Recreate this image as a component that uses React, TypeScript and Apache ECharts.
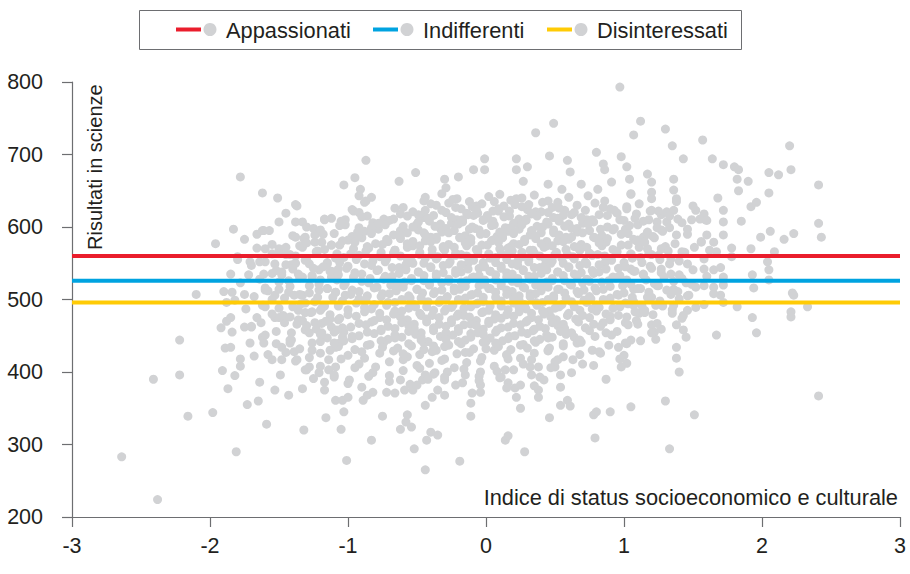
import React, { useEffect, useRef } from "react";
import * as echarts from "echarts";

// Legend / mean lines
const groupLabels = ["Appassionati", "Indifferenti", "Disinteressati"];
const groupMeans = [560, 526, 496];
const groupColors = ["#ea1d2c", "#00a3e0", "#ffcb05"];

// Axis ticks
const xTickValues = [-3, -2, -1, 0, 1, 2, 3];
const yTickValues = [200, 300, 400, 500, 600, 700, 800];

const xAxisTitle = "Indice di status socioeconomico e culturale";
const yAxisTitle = "Risultati in scienze";

// Scatter points: [socio-economic index, science score]
const scoresLowLeft: [number, number][] = [
  [-2.22, 444], [-2.22, 396], [-2.41, 390], [-2.16, 339], [-1.98, 344], [-2.64, 283], [-2.38, 224],
  [-1.81, 290], [-1.59, 328], [-1.32, 320], [-1.05, 321], [-1.16, 337], [-1.01, 278], [-1.73, 355],
  [-1.87, 377], [-1.91, 402], [-1.82, 395], [-1.65, 360], [-1.64, 386], [-1.53, 375], [-1.49, 396],
  [-1.43, 368], [-1.33, 377], [-1.68, 422], [-1.78, 418], [-1.78, 408], [-1.89, 433], [-1.85, 434],
  [-1.92, 461], [-1.88, 470], [-1.84, 455], [-1.75, 462], [-1.71, 440], [-1.62, 448], [-1.61, 440],
  [-1.58, 424], [-1.48, 417], [-1.39, 428], [-1.37, 417], [-1.31, 403], [-1.28, 407], [-1.21, 399],
  [-1.17, 386], [-1.10, 393], [-1.09, 407], [-1.14, 417], [-1.20, 426], [-1.26, 440], [-1.19, 454],
  [-1.12, 462], [-1.06, 440], [-1.03, 455], [-1.46, 468], [-1.36, 472], [-1.31, 482], [-1.53, 475],
  [-1.66, 475], [-1.60, 490], [-1.42, 440], [-1.41, 454], [-1.55, 417], [-1.88, 496], [-1.61, 492],
  [-1.36, 485], [-1.19, 488], [-1.07, 472], [-1.04, 448], [-1.09, 434], [-1.70, 462], [-1.50, 475],
  [-1.31, 458], [-1.24, 468], [-1.48, 434], [-1.41, 444], [-1.26, 430], [-1.14, 403], [-1.09, 361],
  [-1.17, 375], [-1.04, 361], [-1.03, 345],
];

const scoresHighLeft: [number, number][] = [
  [-1.78, 669], [-1.62, 647], [-1.51, 640], [-1.37, 629], [-1.83, 597], [-1.96, 577], [-1.66, 590],
  [-1.61, 595], [-1.57, 595], [-1.38, 607], [-1.33, 607], [-1.17, 611], [-1.03, 658], [-1.02, 610],
  [-1.31, 586], [-1.24, 589], [-1.33, 572], [-1.19, 579], [-1.12, 575], [-1.60, 570], [-1.55, 563],
  [-1.50, 570], [-1.42, 562], [-1.80, 555], [-1.71, 552], [-1.64, 552], [-1.53, 549], [-1.41, 548],
  [-1.28, 549], [-1.21, 541], [-1.15, 549], [-1.07, 542], [-1.72, 534], [-1.61, 535], [-1.48, 534],
  [-1.36, 535], [-1.26, 531], [-1.12, 531], [-2.10, 507], [-1.84, 510], [-1.75, 507], [-1.60, 513],
  [-1.53, 506], [-1.43, 510], [-1.33, 506], [-1.21, 513], [-1.09, 510], [-1.02, 506],
];

const scoresTopMiddle: [number, number][] = [
  [0.97, 793], [0.49, 743], [0.36, 730], [-0.87, 692], [-0.95, 668], [-0.63, 663], [-0.51, 675],
  [-0.01, 694], [-0.09, 679], [-0.01, 679], [0.22, 694], [0.30, 683], [0.22, 679], [0.46, 698],
  [0.59, 692], [0.80, 703], [0.85, 687], [0.86, 679], [-0.30, 666], [-0.20, 669], [-0.29, 654],
  [-0.91, 652], [-0.44, 641], [-0.83, 641], [-0.87, 636], [0.27, 663], [0.61, 676], [0.45, 659],
  [0.69, 659], [0.55, 652], [0.81, 652], [0.91, 662], [0.93, 623], [0.98, 697],
];

const scoresRight: [number, number][] = [
  [1.12, 746], [1.07, 727], [1.30, 735], [1.35, 712], [1.57, 720], [1.43, 694], [1.64, 694],
  [1.72, 686], [1.80, 683], [1.83, 679], [1.82, 666], [1.90, 663], [2.05, 675], [2.12, 672],
  [2.20, 712], [2.21, 679], [2.41, 658], [2.05, 647], [1.83, 650], [1.68, 640], [1.92, 628],
  [1.96, 634], [1.72, 623], [1.85, 608], [1.72, 607], [1.72, 589], [1.99, 586], [2.06, 594],
  [2.16, 583], [2.23, 591], [2.41, 605], [2.43, 586], [1.92, 570], [1.78, 571], [2.09, 566],
  [2.04, 552], [2.05, 541], [2.05, 527], [1.93, 534], [1.94, 516], [2.22, 509], [2.23, 506],
  [1.36, 666], [1.17, 673], [1.20, 662], [1.04, 666], [1.02, 683], [1.05, 645], [1.20, 648],
  [1.36, 651], [1.38, 639], [1.02, 625], [1.09, 618], [1.20, 623], [1.27, 617], [1.31, 621],
  [1.36, 623], [1.24, 607], [1.31, 607], [1.39, 611], [1.52, 623], [1.58, 618], [1.49, 610],
  [1.59, 610], [1.18, 610], [1.27, 596], [1.38, 589], [1.46, 590], [1.60, 589], [1.14, 586],
  [1.07, 583], [1.01, 597], [1.11, 572], [1.27, 570], [1.51, 572], [1.56, 579], [1.65, 579],
  [1.67, 566], [1.42, 566], [1.34, 556], [1.20, 562], [1.05, 562], [1.78, 559], [1.46, 549],
  [1.58, 542], [1.65, 541], [1.27, 542], [1.14, 535], [1.05, 542], [1.40, 534], [1.72, 531],
  [1.49, 521], [1.58, 519], [1.24, 519], [1.07, 514], [1.36, 514], [1.65, 517], [1.70, 506],
  [1.17, 503], [1.47, 506], [1.07, 492], [1.23, 492], [1.36, 492], [1.11, 481], [1.35, 481],
  [1.46, 485], [1.43, 478], [1.72, 496], [1.82, 490], [1.93, 475], [1.96, 454], [2.21, 483],
  [2.21, 476], [2.33, 490], [1.01, 468], [1.20, 465], [1.22, 455], [1.23, 445], [1.12, 443],
  [1.38, 465], [1.43, 458], [1.45, 448], [1.67, 451], [1.38, 434], [1.01, 440], [1.00, 423],
  [1.02, 412], [1.38, 419], [1.40, 400], [1.05, 352], [1.30, 360], [1.51, 341], [1.33, 294],
  [2.41, 367],
];

const scoresLowMiddle: [number, number][] = [
  [-0.44, 265], [-0.19, 277], [0.28, 290], [-0.52, 294], [-0.83, 306], [0.14, 306], [0.16, 312],
  [-0.43, 306], [-0.40, 317], [-0.35, 313], [-0.62, 321], [-0.54, 324], [-0.58, 331], [-0.57, 341],
  [-0.75, 339], [-0.11, 339], [-0.11, 357], [-0.44, 354], [-0.39, 365], [-0.30, 368], [-0.89, 361],
  [-0.86, 368], [-0.82, 372], [-0.66, 371], [-0.59, 375], [-0.53, 375], [0.25, 350], [0.46, 337],
  [0.54, 354], [0.59, 361], [0.61, 353], [0.79, 309], [0.78, 341], [0.80, 345], [0.90, 345],
  [0.87, 390], [0.70, 411], [0.54, 379], [0.38, 365], [0.22, 365], [0.21, 378], [0.16, 385],
  [-0.04, 372], [-0.04, 382], [-0.22, 382], [-0.30, 389], [-0.37, 399], [-0.46, 389], [-0.44, 396],
  [-0.62, 389], [-0.99, 389], [-1.00, 365], [0.39, 393], [0.54, 396], [0.38, 375], [0.50, 407],
  [0.52, 417], [0.32, 407], [0.33, 417], [0.11, 393], [0.14, 403], [-0.04, 400], [-0.15, 396],
  [0.98, 407], [0.96, 434], [0.83, 426], [0.69, 441],
];

const scoresCore: [number, number][] = [
  [-0.92, 643], [-0.45, 636], [-0.32, 646], [-0.21, 639], [-0.12, 635], [0.02, 642], [0.1, 645],
  [0.18, 637], [0.26, 640], [0.35, 644], [0.52, 634], [0.6, 641], [0.74, 643], [0.86, 636],
  [1.05, 646], [1.2, 639], [1.38, 635],
  [-1.38, 631], [-0.97, 624], [-0.88, 634], [-0.6, 627], [-0.44, 623], [-0.36, 630], [-0.27, 633],
  [-0.18, 625], [-0.1, 628], [-0.03, 632], [0.05, 622], [0.13, 629], [0.21, 631], [0.3, 624],
  [0.41, 634], [0.48, 627], [0.57, 623], [0.66, 630], [0.79, 633], [0.9, 625], [1.02, 628],
  [1.11, 632], [1.25, 622], [1.5, 629],
  [-1.45, 619], [-1.12, 612], [-0.96, 622], [-0.86, 615], [-0.74, 611], [-0.62, 618], [-0.53, 621],
  [-0.45, 613], [-0.38, 616], [-0.29, 620], [-0.21, 610], [-0.13, 617], [-0.06, 619], [0.01, 612],
  [0.09, 622], [0.17, 615], [0.24, 611], [0.33, 618], [0.4, 621], [0.49, 613], [0.56, 616],
  [0.64, 620], [0.73, 610], [0.82, 617], [0.95, 619], [1.08, 612], [1.19, 622], [1.33, 615],
  [1.55, 611],
  [-1.5, 607], [-1.3, 600], [-1.17, 610], [-1.02, 603], [-0.92, 599], [-0.82, 606], [-0.7, 609],
  [-0.6, 601], [-0.5, 604], [-0.41, 608], [-0.33, 598], [-0.25, 605], [-0.17, 607], [-0.1, 600],
  [-0.02, 610], [0.06, 603], [0.14, 599], [0.22, 606], [0.29, 609], [0.37, 601], [0.45, 604],
  [0.53, 608], [0.62, 598], [0.7, 605], [0.78, 607], [0.88, 600], [0.97, 610], [1.1, 603],
  [1.24, 599], [1.42, 606], [1.6, 609],
  [-1.62, 595], [-1.4, 588], [-1.25, 598], [-1.1, 591], [-0.97, 587], [-0.88, 594], [-0.78, 597],
  [-0.67, 589], [-0.57, 592], [-0.49, 596], [-0.4, 586], [-0.32, 593], [-0.23, 595], [-0.15, 588],
  [-0.08, 598], [0.0, 591], [0.08, 587], [0.16, 594], [0.24, 597], [0.32, 589], [0.4, 592],
  [0.49, 596], [0.58, 586], [0.66, 593], [0.75, 595], [0.84, 588], [0.93, 598], [1.03, 591],
  [1.15, 587], [1.28, 594], [1.46, 597],
  [-1.75, 583], [-1.55, 576], [-1.38, 586], [-1.24, 579], [-1.12, 575], [-1.0, 582], [-0.9, 585],
  [-0.8, 577], [-0.71, 580], [-0.62, 584], [-0.53, 574], [-0.44, 581], [-0.36, 583], [-0.27, 576],
  [-0.19, 586], [-0.11, 579], [-0.03, 575], [0.05, 582], [0.12, 585], [0.2, 577], [0.28, 580],
  [0.36, 584], [0.44, 574], [0.52, 581], [0.6, 583], [0.69, 576], [0.78, 586], [0.87, 579],
  [0.98, 575], [1.1, 582], [1.22, 585], [1.37, 577], [1.56, 580],
  [-1.66, 571], [-1.5, 564], [-1.35, 574], [-1.22, 567], [-1.08, 563], [-0.96, 570], [-0.86, 573],
  [-0.76, 565], [-0.66, 568], [-0.57, 572], [-0.48, 562], [-0.39, 569], [-0.31, 571], [-0.22, 564],
  [-0.14, 574], [-0.06, 567], [0.02, 563], [0.1, 570], [0.18, 573], [0.26, 565], [0.34, 568],
  [0.42, 572], [0.5, 562], [0.58, 569], [0.67, 571], [0.75, 564], [0.84, 574], [0.94, 567],
  [1.05, 563], [1.17, 570], [1.3, 573], [1.44, 565], [1.62, 568],
  [-1.8, 559], [-1.6, 552], [-1.45, 562], [-1.3, 555], [-1.15, 551], [-1.03, 558], [-0.92, 561],
  [-0.82, 553], [-0.72, 556], [-0.62, 560], [-0.53, 550], [-0.44, 557], [-0.35, 559], [-0.26, 552],
  [-0.18, 562], [-0.1, 555], [-0.02, 551], [0.07, 558], [0.15, 561], [0.23, 553], [0.31, 556],
  [0.39, 560], [0.47, 550], [0.55, 557], [0.63, 559], [0.72, 552], [0.81, 562], [0.9, 555],
  [1.0, 551], [1.12, 558], [1.25, 561], [1.4, 553], [1.58, 556],
  [-1.7, 547], [-1.52, 540], [-1.38, 550], [-1.25, 543], [-1.12, 539], [-1.0, 546], [-0.88, 549],
  [-0.78, 541], [-0.68, 544], [-0.58, 548], [-0.49, 538], [-0.4, 545], [-0.31, 547], [-0.22, 540],
  [-0.13, 550], [-0.05, 543], [0.03, 539], [0.11, 546], [0.19, 549], [0.27, 541], [0.35, 544],
  [0.43, 548], [0.52, 538], [0.6, 545], [0.68, 547], [0.77, 540], [0.86, 550], [0.96, 543],
  [1.07, 539], [1.19, 546], [1.33, 549], [1.5, 541], [1.7, 544],
  [-1.85, 535], [-1.64, 528], [-1.48, 538], [-1.33, 531], [-1.2, 527], [-1.07, 534], [-0.95, 537],
  [-0.84, 529], [-0.73, 532], [-0.63, 536], [-0.54, 526], [-0.45, 533], [-0.36, 535], [-0.27, 528],
  [-0.18, 538], [-0.09, 531], [-0.01, 527], [0.07, 534], [0.15, 537], [0.23, 529], [0.31, 532],
  [0.4, 536], [0.48, 526], [0.56, 533], [0.64, 535], [0.73, 528], [0.82, 538], [0.92, 531],
  [1.02, 527], [1.14, 534], [1.27, 537], [1.42, 529], [1.6, 532],
  [-1.78, 523], [-1.6, 516], [-1.43, 526], [-1.28, 519], [-1.15, 515], [-1.02, 522], [-0.9, 525],
  [-0.79, 517], [-0.69, 520], [-0.59, 524], [-0.5, 514], [-0.41, 521], [-0.32, 523], [-0.23, 516],
  [-0.14, 526], [-0.05, 519], [0.03, 515], [0.11, 522], [0.19, 525], [0.27, 517], [0.36, 520],
  [0.44, 524], [0.52, 514], [0.61, 521], [0.7, 523], [0.79, 516], [0.89, 526], [0.99, 519],
  [1.1, 515], [1.22, 522], [1.36, 525], [1.52, 517], [1.72, 520],
  [-1.9, 511], [-1.68, 504], [-1.5, 514], [-1.35, 507], [-1.22, 503], [-1.09, 510], [-0.97, 513],
  [-0.86, 505], [-0.75, 508], [-0.65, 512], [-0.55, 502], [-0.46, 509], [-0.37, 511], [-0.28, 504],
  [-0.19, 514], [-0.1, 507], [-0.02, 503], [0.07, 510], [0.15, 513], [0.24, 505], [0.32, 508],
  [0.4, 512], [0.49, 502], [0.57, 509], [0.66, 511], [0.75, 504], [0.85, 514], [0.95, 507],
  [1.06, 503], [1.18, 510], [1.31, 513], [1.46, 505], [1.65, 508],
  [-1.82, 499], [-1.62, 492], [-1.46, 502], [-1.31, 495], [-1.17, 491], [-1.04, 498], [-0.92, 501],
  [-0.81, 493], [-0.71, 496], [-0.61, 500], [-0.51, 490], [-0.42, 497], [-0.33, 499], [-0.24, 492],
  [-0.15, 502], [-0.06, 495], [0.03, 491], [0.11, 498], [0.2, 501], [0.28, 493], [0.36, 496],
  [0.45, 500], [0.53, 490], [0.62, 497], [0.71, 499], [0.8, 492], [0.9, 502], [1.01, 495],
  [1.13, 491], [1.26, 498], [1.4, 501], [1.58, 493],
  [-1.74, 487], [-1.55, 480], [-1.4, 490], [-1.26, 483], [-1.13, 479], [-1.0, 486], [-0.88, 489],
  [-0.77, 481], [-0.66, 484], [-0.56, 488], [-0.47, 478], [-0.38, 485], [-0.29, 487], [-0.2, 480],
  [-0.11, 490], [-0.02, 483], [0.07, 479], [0.16, 486], [0.24, 489], [0.33, 481], [0.41, 484],
  [0.5, 488], [0.59, 478], [0.68, 485], [0.77, 487], [0.87, 480], [0.97, 490], [1.08, 483],
  [1.21, 479], [1.35, 486], [1.52, 489],
  [-1.85, 475], [-1.63, 468], [-1.47, 478], [-1.33, 471], [-1.19, 467], [-1.06, 474], [-0.94, 477],
  [-0.83, 469], [-0.72, 472], [-0.62, 476], [-0.52, 466], [-0.43, 473], [-0.34, 475], [-0.25, 468],
  [-0.16, 478], [-0.07, 471], [0.02, 467], [0.11, 474], [0.2, 477], [0.29, 469], [0.38, 472],
  [0.47, 476], [0.56, 466], [0.65, 473], [0.75, 475], [0.85, 468], [0.96, 478], [1.09, 471],
  [1.24, 467], [1.42, 474],
  [-1.7, 463], [-1.52, 456], [-1.37, 466], [-1.23, 459], [-1.1, 455], [-0.98, 462], [-0.87, 465],
  [-0.76, 457], [-0.66, 460], [-0.56, 464], [-0.47, 454], [-0.38, 461], [-0.29, 463], [-0.2, 456],
  [-0.11, 466], [-0.02, 459], [0.07, 455], [0.16, 462], [0.25, 465], [0.34, 457], [0.43, 460],
  [0.52, 464], [0.62, 454], [0.72, 461], [0.83, 463], [0.95, 456], [1.1, 466], [1.27, 459],
  [-1.6, 451], [-1.42, 444], [-1.28, 454], [-1.15, 447], [-1.03, 443], [-0.92, 450], [-0.81, 453],
  [-0.71, 445], [-0.61, 448], [-0.51, 452], [-0.42, 442], [-0.33, 449], [-0.24, 451], [-0.15, 444],
  [-0.06, 454], [0.03, 447], [0.12, 443], [0.21, 450], [0.3, 453], [0.39, 445], [0.48, 448],
  [0.58, 452], [0.68, 442], [0.79, 449], [0.91, 451], [1.05, 444], [1.2, 454],
  [-1.52, 439], [-1.35, 432], [-1.2, 442], [-1.07, 435], [-0.95, 431], [-0.84, 438], [-0.74, 441],
  [-0.64, 433], [-0.54, 436], [-0.45, 440], [-0.36, 430], [-0.27, 437], [-0.18, 439], [-0.09, 432],
  [0.0, 442], [0.09, 435], [0.18, 431], [0.27, 438], [0.36, 441], [0.46, 433], [0.56, 436],
  [0.66, 440], [0.77, 430], [0.89, 437], [1.02, 439],
  [-1.45, 427], [-1.28, 420], [-1.13, 430], [-1.0, 423], [-0.88, 419], [-0.77, 426], [-0.67, 429],
  [-0.57, 421], [-0.48, 424], [-0.39, 428], [-0.3, 418], [-0.21, 425], [-0.12, 427], [-0.03, 420],
  [0.06, 430], [0.15, 423], [0.25, 419], [0.35, 426], [0.45, 429], [0.56, 421], [0.68, 424],
  [0.82, 428], [0.97, 418],
  [-1.38, 415], [-1.2, 408], [-1.05, 418], [-0.92, 411], [-0.8, 407], [-0.7, 414], [-0.6, 417],
  [-0.5, 409], [-0.41, 412], [-0.32, 416], [-0.23, 406], [-0.14, 413], [-0.04, 415], [0.06, 408],
  [0.16, 418], [0.27, 411], [0.38, 407], [0.5, 414], [0.63, 417], [0.78, 409],
  [-1.3, 403], [-1.1, 396], [-0.95, 406], [-0.82, 399], [-0.7, 395], [-0.6, 402], [-0.48, 405],
  [-0.38, 397], [-0.28, 400], [-0.16, 404], [-0.05, 394], [0.08, 401], [0.2, 403], [0.33, 396],
  [0.47, 406], [0.62, 399],
  [-1.25, 391], [-1.0, 384], [-0.85, 394], [-0.7, 387], [-0.55, 383], [-0.42, 390], [-0.3, 393],
  [-0.17, 385], [-0.05, 388], [0.1, 392], [0.25, 382], [0.42, 389],
  [-0.9, 379], [-0.72, 372], [-0.5, 382], [-0.35, 375], [-0.1, 371], [0.15, 378], [0.35, 381],
];

// Extra points filling the densest central part of the cloud
const scoresCoreDense: [number, number][] = [
  [-0.4, 632], [-0.24, 638], [-0.07, 629], [0.06, 635], [0.22, 639], [0.31, 631], [0.45, 636],
  [-0.92, 620], [-0.66, 626], [-0.49, 617], [-0.32, 623], [-0.22, 627], [-0.14, 619], [-0.07, 624],
  [0.01, 616], [0.09, 625], [0.17, 622], [0.26, 628], [0.36, 621], [0.45, 620], [0.53, 626],
  [0.62, 617], [0.72, 623], [0.85, 627],
  [-1.05, 608], [-0.9, 614], [-0.78, 605], [-0.67, 611], [-0.57, 615], [-0.49, 607], [-0.42, 612],
  [-0.33, 604], [-0.25, 613], [-0.17, 610], [-0.09, 616], [-0.02, 609], [0.05, 608], [0.13, 614],
  [0.2, 605], [0.29, 611], [0.37, 615], [0.44, 607], [0.52, 612], [0.6, 604], [0.69, 613],
  [0.77, 610], [0.88, 616], [1.0, 609], [1.14, 608],
  [-1.2, 596], [-1.06, 602], [-0.93, 593], [-0.83, 599], [-0.73, 603], [-0.62, 595], [-0.53, 600],
  [-0.45, 592], [-0.37, 601], [-0.29, 598], [-0.2, 604], [-0.12, 597], [-0.05, 596], [0.04, 602],
  [0.1, 593], [0.18, 599], [0.26, 603], [0.33, 595], [0.41, 600], [0.49, 592], [0.57, 601],
  [0.66, 598], [0.74, 604], [0.83, 597], [0.92, 596], [1.04, 602], [1.17, 593], [1.33, 599],
  [-1.32, 584], [-1.18, 590], [-1.04, 581], [-0.93, 587], [-0.83, 591], [-0.72, 583], [-0.62, 588],
  [-0.53, 580], [-0.44, 589], [-0.36, 586], [-0.27, 592], [-0.19, 585], [-0.11, 584], [-0.04, 590],
  [0.04, 581], [0.12, 587], [0.2, 591], [0.28, 583], [0.36, 588], [0.44, 580], [0.53, 589],
  [0.62, 586], [0.7, 592], [0.79, 585], [0.88, 584], [0.98, 590], [1.09, 581], [1.21, 587],
  [-1.45, 572], [-1.3, 578], [-1.17, 569], [-1.06, 575], [-0.95, 579], [-0.85, 571], [-0.75, 576],
  [-0.66, 568], [-0.57, 577], [-0.48, 574], [-0.4, 580], [-0.31, 573], [-0.23, 572], [-0.15, 578],
  [-0.07, 569], [0.01, 575], [0.09, 579], [0.16, 571], [0.24, 576], [0.32, 568], [0.4, 577],
  [0.48, 574], [0.56, 580], [0.64, 573], [0.73, 572], [0.82, 578], [0.92, 569], [1.03, 575],
  [1.15, 579], [1.29, 571],
  [-1.38, 560], [-1.23, 566], [-1.09, 557], [-0.98, 563], [-0.87, 567], [-0.77, 559], [-0.67, 564],
  [-0.57, 556], [-0.48, 565], [-0.39, 562], [-0.3, 568], [-0.22, 561], [-0.14, 560], [-0.06, 566],
  [0.03, 557], [0.11, 563], [0.19, 567], [0.27, 559], [0.35, 564], [0.43, 556], [0.51, 565],
  [0.59, 562], [0.68, 568], [0.77, 561], [0.86, 560], [0.95, 566], [1.06, 557], [1.18, 563],
  [1.32, 567],
  [-1.45, 548], [-1.31, 554], [-1.18, 545], [-1.06, 551], [-0.94, 555], [-0.83, 547], [-0.73, 552],
  [-0.63, 544], [-0.54, 553], [-0.45, 550], [-0.36, 556], [-0.27, 549], [-0.18, 548], [-0.09, 554],
  [-0.01, 545], [0.07, 551], [0.15, 555], [0.23, 547], [0.31, 552], [0.39, 544], [0.48, 553],
  [0.56, 550], [0.64, 556], [0.73, 549], [0.82, 548], [0.91, 554], [1.01, 545], [1.13, 551],
  [1.26, 555],
  [-1.55, 536], [-1.4, 542], [-1.26, 533], [-1.13, 539], [-1.01, 543], [-0.9, 535], [-0.79, 540],
  [-0.68, 532], [-0.58, 541], [-0.49, 538], [-0.4, 544], [-0.31, 537], [-0.22, 536], [-0.13, 542],
  [-0.05, 533], [0.03, 539], [0.11, 543], [0.19, 535], [0.27, 540], [0.35, 532], [0.44, 541],
  [0.52, 538], [0.6, 544], [0.69, 537], [0.78, 536], [0.87, 542], [0.97, 533], [1.08, 539],
  [1.2, 543], [1.34, 535],
  [-1.5, 524], [-1.35, 530], [-1.21, 521], [-1.08, 527], [-0.96, 531], [-0.85, 523], [-0.74, 528],
  [-0.64, 520], [-0.54, 529], [-0.45, 526], [-0.36, 532], [-0.27, 525], [-0.18, 524], [-0.1, 530],
  [-0.01, 521], [0.07, 527], [0.15, 531], [0.23, 523], [0.32, 528], [0.4, 520], [0.48, 529],
  [0.57, 526], [0.66, 532], [0.75, 525], [0.84, 524], [0.94, 530], [1.05, 521], [1.16, 527],
  [1.29, 531], [1.45, 523],
  [-1.58, 512], [-1.42, 518], [-1.28, 509], [-1.15, 515], [-1.03, 519], [-0.92, 511], [-0.81, 516],
  [-0.7, 508], [-0.6, 517], [-0.5, 514], [-0.41, 520], [-0.32, 513], [-0.23, 512], [-0.15, 518],
  [-0.06, 509], [0.02, 515], [0.11, 519], [0.19, 511], [0.28, 516], [0.36, 508], [0.45, 517],
  [0.53, 514], [0.62, 520], [0.71, 513], [0.8, 512], [0.9, 518], [1.0, 509], [1.12, 515],
  [1.25, 519], [1.39, 511],
  [-1.55, 500], [-1.39, 506], [-1.24, 497], [-1.11, 503], [-0.98, 507], [-0.87, 499], [-0.76, 504],
  [-0.66, 496], [-0.56, 505], [-0.47, 502], [-0.38, 508], [-0.29, 501], [-0.2, 500], [-0.11, 506],
  [-0.02, 497], [0.07, 503], [0.15, 507], [0.24, 499], [0.32, 504], [0.41, 496], [0.49, 505],
  [0.58, 502], [0.67, 508], [0.76, 501], [0.85, 500], [0.96, 506], [1.07, 497], [1.2, 503],
  [1.34, 507],
  [-1.5, 488], [-1.34, 494], [-1.2, 485], [-1.07, 491], [-0.94, 495], [-0.83, 487], [-0.72, 492],
  [-0.61, 484], [-0.52, 493], [-0.43, 490], [-0.34, 496], [-0.25, 489], [-0.16, 488], [-0.07, 494],
  [0.02, 485], [0.11, 491], [0.2, 495], [0.29, 487], [0.37, 492], [0.46, 484], [0.55, 493],
  [0.64, 490], [0.73, 496], [0.82, 489], [0.92, 488], [1.03, 494], [1.15, 485], [1.28, 491],
  [-1.42, 476], [-1.27, 482], [-1.13, 473], [-1.0, 479], [-0.88, 483], [-0.77, 475], [-0.67, 480],
  [-0.57, 472], [-0.48, 481], [-0.39, 478], [-0.3, 484], [-0.21, 477], [-0.12, 476], [-0.03, 482],
  [0.06, 473], [0.15, 479], [0.24, 483], [0.33, 475], [0.42, 480], [0.51, 472], [0.6, 481],
  [0.7, 478], [0.8, 484], [0.9, 477], [1.02, 476], [1.15, 482],
  [-1.3, 464], [-1.16, 470], [-1.04, 461], [-0.92, 467], [-0.81, 471], [-0.71, 463], [-0.61, 468],
  [-0.52, 460], [-0.43, 469], [-0.34, 466], [-0.25, 472], [-0.16, 465], [-0.07, 464], [0.02, 470],
  [0.11, 461], [0.2, 467], [0.3, 471], [0.39, 463], [0.48, 468], [0.57, 460], [0.67, 469],
  [0.78, 466], [0.9, 472], [1.03, 465],
  [-1.2, 452], [-1.08, 458], [-0.97, 449], [-0.86, 455], [-0.76, 459], [-0.66, 451], [-0.56, 456],
  [-0.47, 448], [-0.38, 457], [-0.29, 454], [-0.2, 460], [-0.11, 453], [-0.02, 452], [0.08, 458],
  [0.17, 449], [0.26, 455], [0.35, 459], [0.44, 451], [0.54, 456], [0.64, 448], [0.75, 457],
  [0.87, 454],
  [-1.1, 440], [-0.97, 446], [-0.86, 437], [-0.76, 443], [-0.66, 447], [-0.56, 439], [-0.47, 444],
  [-0.38, 436], [-0.29, 445], [-0.2, 442], [-0.11, 448], [-0.02, 441], [0.07, 440], [0.16, 446],
  [0.25, 437], [0.35, 443], [0.45, 447], [0.56, 439], [0.68, 444],
  [-0.9, 428], [-0.75, 434], [-0.6, 425], [-0.45, 431], [-0.3, 435], [-0.15, 427], [0.0, 432],
  [0.15, 424], [0.3, 433], [0.45, 430],
];

const FONT = '"Liberation Sans", Arial, Helvetica, sans-serif';
const TEXT_COLOR = "#231f20";
const AXIS_COLOR = "#6d6e71";
const DOT_COLOR = "#d1d2d4";

export default function App() {
  const ref = useRef<HTMLDivElement>(null);

  useEffect(() => {
    if (!ref.current) return;
    const chart = echarts.init(ref.current, null, { renderer: "svg" });

    const allPoints = [
      ...scoresLowLeft,
      ...scoresHighLeft,
      ...scoresTopMiddle,
      ...scoresRight,
      ...scoresLowMiddle,
      ...scoresCore,
      ...scoresCoreDense,
    ];

    const xMin = xTickValues[0];
    const xMax = xTickValues[xTickValues.length - 1];

    const lineSeries = groupLabels.map((name, i) => ({
      name,
      type: "line",
      data: [
        [xMin, groupMeans[i]],
        [xMax, groupMeans[i]],
      ],
      symbol: "none",
      lineStyle: { color: groupColors[i], width: 4 },
      z: 5,
      silent: true,
    }));

    // Legend drawn as graphic (line + grey dot + label)
    const legendLineX = [176, 373, 547];
    const legendGraphic: any[] = [
      {
        type: "rect",
        shape: { x: 139.5, y: 10.5, width: 602, height: 39 },
        style: { fill: "#fff", stroke: AXIS_COLOR, lineWidth: 1 },
      },
    ];
    groupLabels.forEach((label, i) => {
      const lx = legendLineX[i];
      legendGraphic.push({
        type: "line",
        shape: { x1: lx, y1: 29.5, x2: lx + 25, y2: 29.5 },
        style: { stroke: groupColors[i], lineWidth: 4 },
      });
      legendGraphic.push({
        type: "circle",
        shape: { cx: lx + 34, cy: 29.5, r: 6.5 },
        style: { fill: DOT_COLOR },
      });
      legendGraphic.push({
        type: "text",
        x: lx + 50,
        y: 30,
        style: {
          text: label,
          font: `21.8px ${FONT}`,
          fill: TEXT_COLOR,
          textAlign: "left",
          textVerticalAlign: "middle",
        },
      });
    });

    chart.setOption({
      animation: false,
      grid: { left: 72, right: 10, top: 82, bottom: 57, containLabel: false },
      xAxis: {
        type: "value",
        min: xMin,
        max: xMax,
        interval: 1,
        axisLine: { show: true, onZero: false, lineStyle: { color: AXIS_COLOR, width: 1.2 } },
        axisTick: { show: true, inside: false, length: 10, lineStyle: { color: AXIS_COLOR, width: 1.2 } },
        axisLabel: { color: TEXT_COLOR, fontSize: 21.5, fontFamily: FONT, margin: 18 },
        splitLine: { show: false },
      },
      yAxis: {
        type: "value",
        min: yTickValues[0],
        max: yTickValues[yTickValues.length - 1],
        interval: 100,
        axisLine: { show: true, onZero: false, lineStyle: { color: AXIS_COLOR, width: 1.2 } },
        axisTick: { show: true, inside: false, length: 10, lineStyle: { color: AXIS_COLOR, width: 1.2 } },
        axisLabel: { color: TEXT_COLOR, fontSize: 21.5, fontFamily: FONT, margin: 29 },
        splitLine: { show: false },
      },
      series: [
        {
          name: "Studenti",
          type: "scatter",
          data: allPoints,
          symbol: "circle",
          symbolSize: 9,
          itemStyle: { color: DOT_COLOR, opacity: 1 },
          z: 2,
          silent: true,
        },
        ...lineSeries,
      ],
      graphic: [
        ...legendGraphic,
        {
          type: "text",
          x: 95,
          y: 250,
          rotation: Math.PI / 2,
          style: {
            text: yAxisTitle,
            font: `20px ${FONT}`,
            fill: TEXT_COLOR,
            textAlign: "left",
            textVerticalAlign: "middle",
          },
        },
        {
          type: "text",
          x: 898,
          y: 497,
          style: {
            text: xAxisTitle,
            font: `21.8px ${FONT}`,
            fill: TEXT_COLOR,
            textAlign: "right",
            textVerticalAlign: "middle",
          },
        },
      ],
    });

    return () => chart.dispose();
  }, []);

  return (
    <div
      ref={ref}
      style={{ position: "fixed", left: 0, top: 0, width: 910, height: 574, background: "#fff" }}
    />
  );
}
